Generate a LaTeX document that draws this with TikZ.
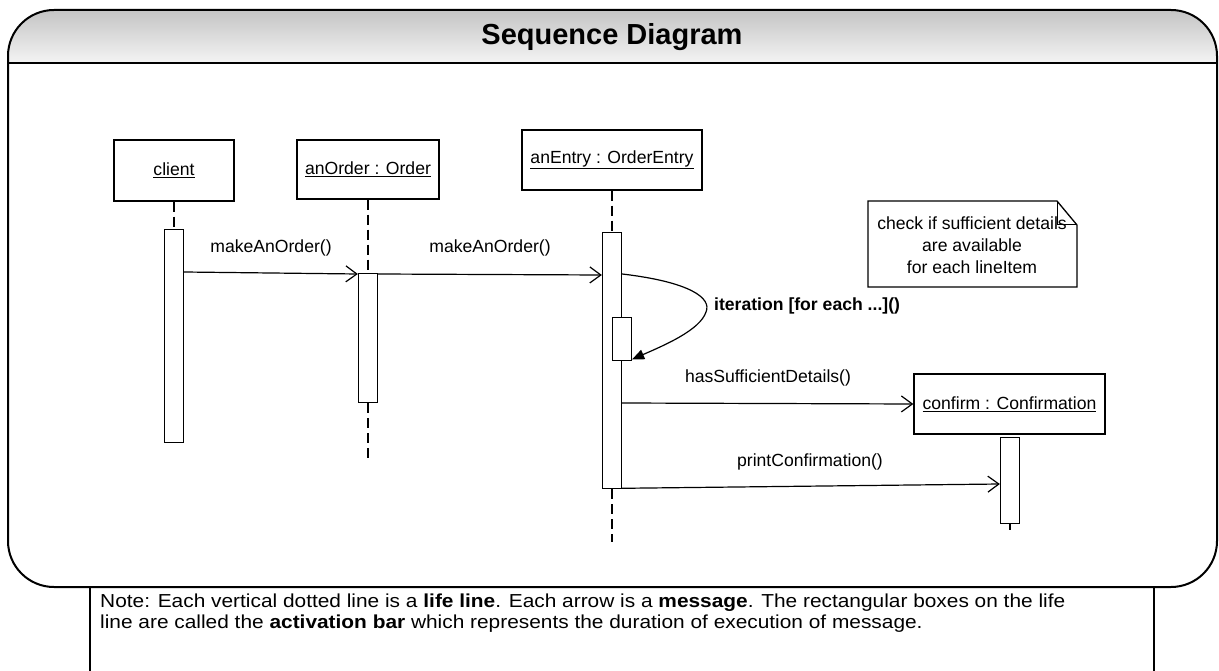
\documentclass[tikz,border=0pt]{standalone}
\usepackage{fontspec}
\setmainfont{Liberation Sans}
\newfontfamily\notefamily[FakeStretch=1.11]{Liberation Sans}
\usetikzlibrary{arrows.meta,calc}
\newcommand\dfont{\fontsize{17.6pt}{22pt}\selectfont}
\newcommand\nfont{\notefamily\fontsize{18.8pt}{21pt}\selectfont}
\definecolor{hdtop}{RGB}{196,196,196}
\definecolor{hdbot}{RGB}{244,244,244}
\begin{document}
\begin{tikzpicture}[x=1pt,y=-1pt,
  frame/.style={line width=2pt,draw=black},
  head/.style={draw,line width=1.3pt,fill=white,inner sep=0pt,font=\dfont},
  actbar/.style={draw,line width=1.3pt,fill=white,inner sep=0pt,minimum width=19pt},
  life/.style={line width=2.2pt,dash pattern=on 10pt off 5pt},
  msg/.style={line width=1.2pt,-{Straight Barb[length=11pt,width=16pt]}},
  selfmsg/.style={line width=1.2pt,-{Triangle[length=12pt,width=10pt]}},
  lbl/.style={font=\dfont,inner sep=0pt}]
\useasboundingbox (0,0) rectangle (1219,671);

% frame with shaded header
\begin{scope}
  \clip[rounded corners=46pt] (8,10) rectangle (1217,587);
  \shade[top color=hdtop,bottom color=hdbot] (8,10) rectangle (1217,63);
\end{scope}
\draw[frame,rounded corners=46pt] (8,10) rectangle (1217,587);
\draw[frame] (8,63) -- (1217,63);
\node[font=\fontsize{29pt}{30pt}\selectfont\bfseries] (title) at (612,37) {Sequence Diagram};

% lifeline heads
\node[head,minimum width=120pt,minimum height=61pt] (client) at (174,170.5) {\underline{client}};
\node[head,minimum width=142pt,minimum height=59pt] (order) at (368,169.5) {\underline{anOrder : Order}};
\node[head,minimum width=180pt,minimum height=60pt] (entry) at (612,160) {\underline{anEntry : OrderEntry}};
\node[head,minimum width=191pt,minimum height=60pt] (conf) at (1009.5,404) {\underline{confirm : Confirmation}};

% activation bars
\node[actbar,minimum height=213pt,anchor=north] (cbar) at (174,229) {};
\node[actbar,minimum height=129pt,anchor=north] (obar) at (368,273) {};
\node[actbar,minimum height=256pt,anchor=north] (ebar) at (612,232) {};
\node[actbar,minimum height=43pt,anchor=north] (sbar) at (622,317) {};
\node[actbar,minimum height=86pt,anchor=north] (fbar) at (1010,437) {};

% lifelines
\coordinate (oend) at (368,462);
\coordinate (eend) at (612,542);
\coordinate (fend) at (1010,530);
\draw[life] (client.south) -- (cbar.north);
\draw[life] (order.south) -- (obar.north);
\draw[life] (obar.south) -- (oend);
\draw[life] (entry.south) -- (ebar.north);
\draw[life] (ebar.south) -- (eend);
\draw[life] (fbar.south) -- (fend);

% messages
\draw[msg] ($(cbar.north east)+(0,43)$) -- ($(obar.north west)+(0,1)$);
\node[lbl] (l1) at (271,248) {makeAnOrder()};
\draw[msg] ($(obar.north east)+(0,1)$) -- ($(ebar.north west)+(0,43)$);
\node[lbl] (l2) at (490,248) {makeAnOrder()};
\draw[selfmsg] ($(ebar.north east)+(0,42)$) .. controls (690,282) and (712,298) .. (706,312) .. controls (700,330) and (665,345) .. ($(sbar.south east)+(0,-2)$);
\node[lbl,font=\dfont\bfseries,anchor=west] (l3) at (714,306) {iteration [for each ...]()};
\draw[msg] ($(ebar.north east)+(0,171)$) -- (conf.west);
\node[lbl] (l4) at (768,378) {hasSufficientDetails()};
\draw[msg] ($(ebar.south east)+(0,-1)$) -- ($(fbar.north west)+(0,47)$);
\node[lbl] (l5) at (810,462) {printConfirmation()};

% comment note
\draw[line width=1.3pt,fill=white] (868,201) -- (1057,201) -- (1077,225) -- (1077,287) -- (868,287) -- cycle;
\draw[line width=1pt] (1057,201) -- (1057,225) -- (1077,225);
\node[lbl,align=center,font=\fontsize{17.6pt}{22pt}\selectfont] (cmt) at (972,245) {check if sufficient details\\are available\\for each lineItem};

% bottom note
\fill[white] (90,589) rectangle (1154,671);
\draw[line width=1.5pt] (90,587) -- (90,671);
\draw[line width=1.5pt] (1154,587) -- (1154,671);
\node[lbl,font=\nfont,anchor=base west] (n1) at (100,607) {Note: Each vertical dotted line is a \textbf{life line}. Each arrow is a \textbf{message}. The rectangular boxes on the life};
\node[lbl,font=\nfont,anchor=base west] (n2) at (100,628) {line are called the \textbf{activation bar} which represents the duration of execution of message.};
\end{tikzpicture}
\end{document}
